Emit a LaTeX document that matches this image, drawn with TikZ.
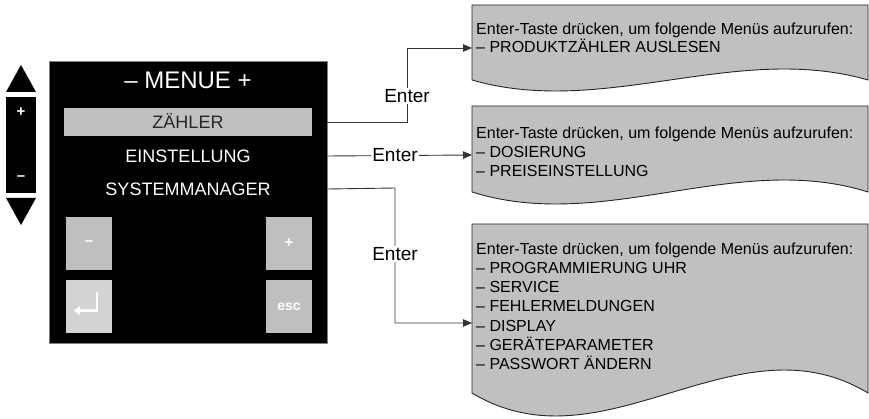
\documentclass[tikz,border=0pt]{standalone}
\usepackage{fontspec}
\setmainfont{Liberation Sans}
\usetikzlibrary{arrows.meta}
\definecolor{boxgray}{HTML}{C0C0C0}
\definecolor{btngray}{HTML}{BFBFBF}
\definecolor{btnlight}{HTML}{D3D3D3}
\definecolor{linegray}{HTML}{333333}
\newcommand\docbox[5]{% x0 ytop x1 ybot amp
  \path[doc] (#1,#2) -- (#3,#2) -- (#3,#4)
    .. controls ({#3-(#3-#1)/3},{#4-3.46*#5}) and ({#1+(#3-#1)/3},{#4+3.46*#5}) .. (#1,#4) -- cycle;}
\begin{document}
\begin{tikzpicture}[x=1pt,y=-1pt,
  conn/.style={draw=linegray,line width=0.9pt},
  arr/.style={conn,-{Triangle[length=9pt,width=7.5pt]}},
  lbl/.style={fill=white,inner sep=1.5pt,font=\fontsize{19}{19}\selectfont},
  doc/.style={fill=boxgray,draw=black!85,line width=0.9pt},
  docline/.style={anchor=base west,inner sep=0pt,font=\fontsize{16}{19}\selectfont},
  item/.style={text=white,font=\fontsize{18}{18}\selectfont,inner sep=0pt,text height=13pt,text depth=0pt},
  btn/.style={fill=btngray,draw=none,minimum width=46pt,minimum height=53pt,inner sep=0pt,text=white},
]
\useasboundingbox (0,0) rectangle (869,419);

% side control
\fill (6,92) -- (21,65) -- (36,92) -- cycle;
\fill (6,97) rectangle (36,193);
\fill (6,198) -- (36,198) -- (21,225) -- cycle;
\node[text=white,font=\fontsize{15}{15}\selectfont\bfseries,inner sep=0pt] (sideplus) at (21,112) {+};
\node[text=white,font=\fontsize{15}{15}\selectfont\bfseries,inner sep=0pt] (sideminus) at (21,178) {–};

% menu panel
\node[fill=black,draw=black!50,line width=0.8pt,minimum width=278pt,minimum height=282pt,inner sep=0pt] (menu) at (188,202) {};
\node[text=white,font=\fontsize{24}{24}\selectfont,inner sep=0pt,text height=17pt,text depth=0pt] (title) at (188,80) {– MENUE +};
\node[fill=boxgray,minimum width=248pt,minimum height=28pt,inner sep=0pt,text=black!85,font=\fontsize{18}{18}\selectfont,text height=13pt,text depth=0pt] (zaehler) at (188,122) {ZÄHLER};
\node[item] (einst) at (188,156) {EINSTELLUNG};
\node[item] (sysman) at (188,189) {SYSTEMMANAGER};

\node[btn] (bminus) at (89,243.5) {\fontsize{15}{15}\selectfont\bfseries –};
\node[btn] (bplus) at (289,243.5) {\fontsize{15}{15}\selectfont\bfseries +};
\node[btn,fill=btnlight] (benter) at (89,306.5) {};
\node[btn] (besc) at (289,306.5) {\fontsize{14}{14}\selectfont\bfseries esc};
\draw[white,line width=2.6pt,-{Triangle[length=6pt,width=9pt]}]
  ([xshift=8pt,yshift=14pt]benter.center) -- ([xshift=8pt,yshift=-4pt]benter.center) -- ([xshift=-15pt,yshift=-4pt]benter.center);

% document boxes
\docbox{472}{5}{868}{80}{11}
\docbox{472}{106}{868}{192}{12}
\docbox{472}{224}{868}{393}{23}

\node[docline] (b1a) at (476,35) {Enter-Taste drücken, um folgende Menüs aufzurufen:};
\node[docline] (b1b) at (476,53) {– PRODUKTZÄHLER AUSLESEN};

\node[docline] (b2a) at (476,139) {Enter-Taste drücken, um folgende Menüs aufzurufen:};
\node[docline] (b2b) at (476,158) {– DOSIERUNG};
\node[docline] (b2c) at (476,177) {– PREISEINSTELLUNG};

\node[docline] (b3a) at (476,255) {Enter-Taste drücken, um folgende Menüs aufzurufen:};
\node[docline] (b3b) at (476,274) {– PROGRAMMIERUNG UHR};
\node[docline] (b3c) at (476,293) {– SERVICE};
\node[docline] (b3d) at (476,312) {– FEHLERMELDUNGEN};
\node[docline] (b3e) at (476,331) {– DISPLAY};
\node[docline] (b3f) at (476,350) {– GERÄTEPARAMETER};
\node[docline] (b3g) at (476,369) {– PASSWORT ÄNDERN};

% arrow targets on box edges
\coordinate (in1) at (472,48);
\coordinate (in2) at (472,155);
\coordinate (in3) at (472,323);
\coordinate (k1) at (407,122);
\coordinate (k2) at (395,188);

% connectors
\draw[arr] (zaehler -| menu.east) -- (k1) -- (k1 |- in1) -- (in1);
\draw[arr] (einst -| menu.east) -- (in2);
\draw[arr] (sysman -| menu.east) -- (k2) -- (k2 |- in3) -- (in3);

\node[lbl] (e1) at (407,96) {Enter};
\node[lbl] (e2) at (395,155) {Enter};
\node[lbl] (e3) at (395,254) {Enter};
\end{tikzpicture}
\end{document}
